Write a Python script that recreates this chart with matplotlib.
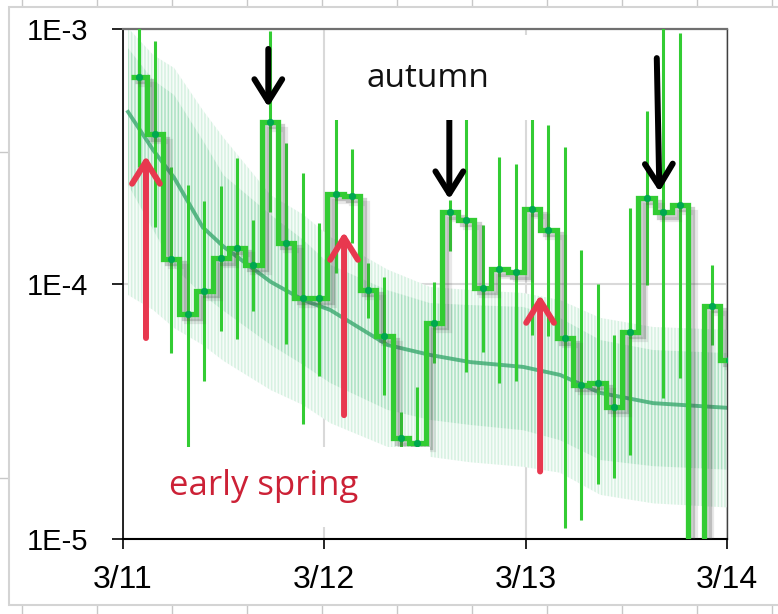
import numpy as np
import matplotlib
matplotlib.use('Agg')
import matplotlib.pyplot as plt
from matplotlib import patheffects
from matplotlib.patches import Rectangle
from matplotlib.lines import Line2D

# time axis in hours from 3/11 00:00, 2-hour bins
bin_hours = [1.91, 3.82, 5.72, 7.75, 9.69, 11.68, 13.56, 15.54, 17.53, 19.43,
             21.43, 23.37, 25.36, 27.27, 29.25, 31.15, 33.15, 35.09, 37.08, 38.99,
             40.90, 42.89, 44.87, 46.82, 48.80, 50.71, 52.70, 54.61, 56.60, 58.58,
             60.45, 62.44, 64.43, 66.42, 68.35, 70.26, 72.19]
rate = [6.50e-4, 3.86e-4, 1.25e-4, 7.61e-5, 9.41e-5, 1.26e-4, 1.39e-4, 1.19e-4, 4.33e-4, 1.45e-4,
        8.79e-5, 8.79e-5, 2.25e-4, 2.22e-4, 9.47e-5, 6.27e-5, 2.48e-5, 2.39e-5, 7.05e-5, 1.91e-4,
        1.78e-4, 9.66e-5, 1.14e-4, 1.11e-4, 1.96e-4, 1.63e-4, 6.12e-5, 4.02e-5, 4.08e-5, 3.30e-5,
        6.50e-5, 2.18e-4, 1.91e-4, 2.04e-4, 0.0, 8.22e-5, 5.04e-5]
rate_hi = [1.3e-3, 8.97e-4, 2.88e-4, 2.45e-4, 2.11e-4, 2.42e-4, 3.13e-4, 1.78e-4, 9.82e-4, 3.58e-4,
           2.72e-4, 1.73e-4, 5.0e-4, 3.37e-4, 1.21e-4, 1.07e-4, 3.16e-5, 3.95e-5, 1.02e-4, 2.13e-4,
           5.5e-4, 1.70e-4, 3.16e-4, 2.96e-4, 5.2e-4, 4.21e-4, 3.43e-4, 1.36e-4, 9.97e-5, 6.31e-5,
           1.98e-4, 4.79e-4, 1.3e-3, 9.62e-4, np.nan, 1.19e-4, 7.91e-5]
rate_lo = [2.88e-4, 1.67e-4, 5.38e-5, 2.0e-5, 4.18e-5, 6.56e-5, 6.08e-5, 7.85e-5, 1.91e-4, 5.82e-5,
           2.82e-5, 4.36e-5, 1.10e-4, 1.45e-4, 7.33e-5, 3.67e-5, 1.9e-5, 1.9e-5, 4.89e-5, 1.35e-4,
           4.53e-5, 5.43e-5, 4.08e-5, 4.17e-5, 6.31e-5, 6.25e-5, 1.10e-5, 1.19e-5, 1.65e-5, 1.73e-5,
           2.13e-5, 9.91e-5, 3.56e-5, 4.27e-5, np.nan, 5.77e-5, 3.5e-5]

# expected background with 1 and 2 sigma envelopes
band_hours = [0.6, 3.6, 6.1, 9.5, 12.0, 17.6, 21.5, 24.7, 31.5, 36.6, 41.4, 47.7, 52.1, 56.9, 63.2, 72.0]
band_mid = [4.73e-4, 3.35e-4, 2.61e-4, 1.67e-4, 1.40e-4, 1.02e-4, 8.65e-5, 7.91e-5,
            5.77e-5, 5.27e-5, 4.94e-5, 4.73e-5, 4.40e-5, 3.74e-5, 3.41e-5, 3.27e-5]
band_1hi = [8.42e-4, 6.31e-4, 5.51e-4, 3.67e-4, 2.67e-4, 1.87e-4, 1.49e-4, 1.19e-4,
            9.47e-5, 8.42e-5, 8.27e-5, 8.13e-5, 7.36e-5, 6.03e-5, 5.51e-5, 5.36e-5]
band_1lo = [2.45e-4, 1.63e-4, 1.16e-4, 9.06e-5, 7.84e-5, 5.77e-5, 4.81e-5, 4.09e-5,
            3.21e-5, 2.93e-5, 2.80e-5, 2.67e-5, 2.44e-5, 2.04e-5, 1.93e-5, 1.87e-5]
band_2hi = [1.01e-3, 7.91e-4, 7.03e-4, 4.81e-4, 3.74e-4, 2.23e-4, 1.87e-4, 1.53e-4,
            1.14e-4, 9.73e-5, 9.47e-5, 9.22e-5, 8.65e-5, 7.36e-5, 6.78e-5, 6.61e-5]
band_2lo = [9.06e-5, 7.91e-5, 6.72e-5, 5.77e-5, 4.99e-5, 3.84e-5, 3.35e-5, 2.85e-5,
            2.30e-5, 2.10e-5, 2.00e-5, 1.92e-5, 1.82e-5, 1.49e-5, 1.38e-5, 1.33e-5]

day_ticks = [0, 24, 48, 72]
day_labels = ['3/11', '3/12', '3/13', '3/14']
y_ticks = [1e-5, 1e-4, 1e-3]
y_labels = ['1E-5', '1E-4', '1E-3']

# (tail, tip) in hours / rate
spring_arrows = [((2.74, 6.14e-5), (2.74, 3.18e-4)),
                 ((26.35, 3.06e-5), (26.35, 1.60e-4)),
                 ((49.72, 1.84e-5), (49.72, 9.06e-5))]
autumn_arrows = [((17.32, 8.35e-4), (17.32, 4.94e-4)),
                 ((38.90, 4.40e-4), (38.90, 2.15e-4)),
                 ((63.63, 7.69e-4), (63.94, 2.30e-4))]

plt.rcParams['hatch.linewidth'] = 1.1
tick_font = ['Liberation Sans', 'DejaVu Sans']
text_font = ['Open Sans', 'DejaVu Sans']

fig = plt.figure(figsize=(7.78, 6.14), dpi=100)
fig.patch.set_facecolor('white')

# spreadsheet cells around the chart panel
for xp in range(22, 778, 75):
    fig.add_artist(Line2D([xp / 778, xp / 778], [1, 1 - 7 / 614], color='#c8c8c8', lw=1, zorder=-5))
    fig.add_artist(Line2D([xp / 778, xp / 778], [0, 9 / 614], color='#c8c8c8', lw=1, zorder=-5))
for yp in [152, 478]:
    fig.add_artist(Line2D([0, 9 / 778], [1 - yp / 614] * 2, color='#c8c8c8', lw=1, zorder=-5))
fig.add_artist(Rectangle((9 / 778, 9 / 614), 1, 598 / 614, transform=fig.transFigure,
                         facecolor='white', edgecolor='#d4d4d4', lw=1.5, zorder=-4))

ax = fig.add_axes([123 / 778, 75 / 614, 604 / 778, 510 / 614])
ax.set_zorder(1)
ax.set_yscale('log', nonpositive='clip')
ax.set_xlim(0, 72)
ax.set_ylim(1e-5, 1e-3)

# background envelopes drawn as vertical hatching
ax.fill_between(band_hours, band_2lo, band_2hi, facecolor='#f7fcf9', edgecolor='#d6f1e1',
                hatch='|||||', linewidth=0, zorder=1)
ax.fill_between(band_hours, band_1lo, band_1hi, facecolor='#eaf7ef', edgecolor='#ace2c3',
                hatch='|||||', linewidth=0, zorder=1.1)
ax.plot(band_hours, band_mid, color='#3aa96e', lw=2.8, alpha=0.8, zorder=1.2)

# measured rate
t = np.array(bin_hours)
w = t[1] - t[0]
edges = np.concatenate([[t[0] - w / 2], (t[1:] + t[:-1]) / 2, [t[-1] + w / 2]])
ax.vlines(bin_hours, rate_lo, rate_hi, color='#33cc33', lw=2.2, zorder=3)
ax.stairs(rate, edges, baseline=None, color='#33cc33', lw=3.8, zorder=4,
          path_effects=[patheffects.SimpleLineShadow(offset=(5, -5), shadow_color='#444444', alpha=0.12),
                        patheffects.SimpleLineShadow(offset=(3, -3), shadow_color='#444444', alpha=0.25),
                        patheffects.Normal()])
ax.plot(bin_hours, rate, 'o', color='#00a84f', ms=4.2, zorder=5)

for tail, tip in spring_arrows:
    ax.annotate('', xy=tip, xytext=tail, zorder=6,
                arrowprops=dict(arrowstyle='->,head_length=0.4,head_width=0.25', mutation_scale=40,
                                lw=4.3, color='#e8384f', shrinkA=0, shrinkB=0))
for tail, tip in autumn_arrows:
    ax.annotate('', xy=tip, xytext=tail, zorder=6,
                arrowprops=dict(arrowstyle='->,head_length=0.4,head_width=0.25', mutation_scale=40,
                                lw=4.3, color='black', shrinkA=0, shrinkB=0))

# white label boxes
ax.add_patch(Rectangle((0.343, 0.822), 0.339, 0.166, transform=ax.transAxes,
                       facecolor='white', edgecolor='none', zorder=7))
ax.add_patch(Rectangle((0.045, 0.0235), 0.463, 0.157, transform=ax.transAxes,
                       facecolor='white', edgecolor='none', zorder=7))
ax.text(0.505, 0.886, 'autumn', transform=ax.transAxes, ha='center', va='baseline',
        fontsize=24, family=text_font, color='#111111', zorder=8)
ax.text(0.233, 0.0863, 'early spring', transform=ax.transAxes, ha='center', va='baseline',
        fontsize=25, family=text_font, color='#cc2136', zorder=8)

ax.set_xticks(day_ticks)
ax.set_xticklabels(day_labels, fontsize=23, family=tick_font)
ax.set_yticks(y_ticks)
ax.set_yticklabels(y_labels, fontsize=21, family=tick_font)
ax.yaxis.set_minor_locator(matplotlib.ticker.NullLocator())
ax.tick_params(axis='x', direction='out', length=7.5, width=1.2, pad=11)
ax.tick_params(axis='y', direction='out', length=8, width=1.2, pad=17)
ax.grid(True, color='#d9d9d9', lw=1.5, zorder=0)
ax.set_axisbelow(True)

ax.spines['left'].set_linewidth(1.2)
ax.spines['bottom'].set_linewidth(1.5)
ax.spines['top'].set_color('#707070')
ax.spines['top'].set_linewidth(1.6)
ax.spines['right'].set_color('#404040')
ax.spines['right'].set_linewidth(1.0)

fig.savefig('out.png', dpi=100)
